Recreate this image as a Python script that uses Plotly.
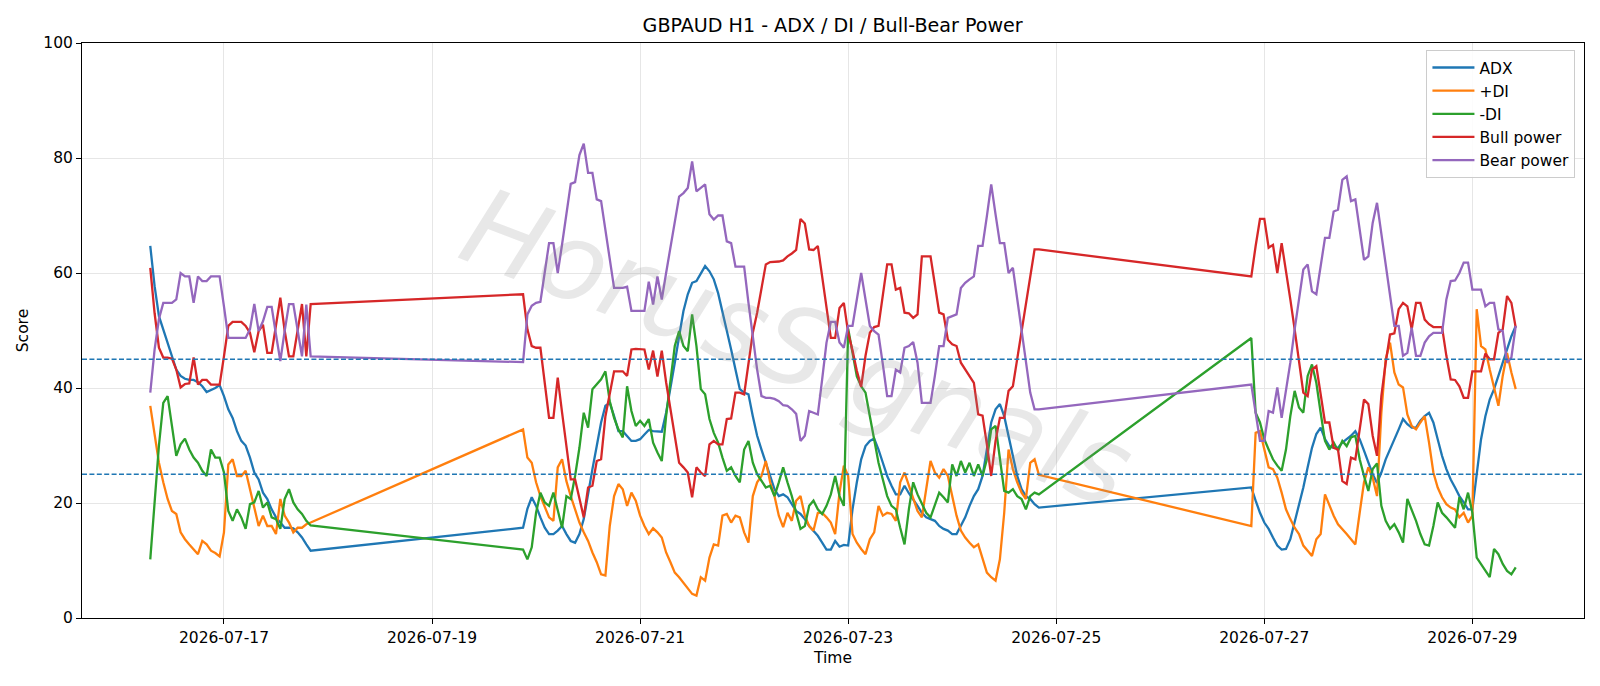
import pandas as pd
import plotly.graph_objects as go

# ---- time axis: three trading segments of hourly bars ----
seg_bounds = [("2026-07-16 07:00", "2026-07-17 20:00"),
              ("2026-07-19 21:00", "2026-07-24 20:00"),
              ("2026-07-26 21:00", "2026-07-29 10:00")]
times = []
for a, b in seg_bounds:
    times += list(pd.date_range(a, b, freq="h"))

# ---- series values ----
adx_s1 = [64.7, 57.7, 52.5, 50.2, 47.9, 45.8, 43.2, 42.1, 41.6, 41.4, 41.4, 41.0, 40.3, 39.3, 39.6, 40.0, 40.5, 38.6, 36.3, 34.8,
          32.5, 30.8, 30.0, 27.9, 25.3, 24.1, 21.8, 20.7, 18.9, 17.5, 16.6, 15.7, 15.7, 15.6, 14.9, 14.0, 12.8, 11.7]
adx_s2 = [15.7, 19.0, 21.0, 19.5, 17.5, 15.7, 14.6, 14.6, 15.2, 16.0,
          14.6, 13.4, 13.1, 14.6, 17.2, 21.8, 25.9, 29.9, 34.0, 36.9,
          37.4, 35.1, 32.5, 32.5, 31.7, 30.8, 30.8, 31.1, 31.9, 32.7,
          32.5, 32.5, 32.4, 35.7, 39.8, 44.4, 49.0, 53.4, 56.3, 58.3,
          58.6, 60.0, 61.2, 60.3, 58.9, 56.5, 53.4, 50.2, 46.7, 43.2,
          39.8, 39.2, 38.9, 35.1, 31.7, 29.3, 27.0, 24.4, 22.4, 21.2,
          21.5, 21.0, 19.8, 18.6, 18.1, 17.2, 16.0, 15.2, 14.3, 13.1,
          11.9, 11.9, 13.4, 12.4, 12.7, 12.6, 18.9, 23.6, 27.6, 29.9,
          30.8, 31.2, 29.3, 27.0, 24.7, 23.0, 21.5, 21.5, 23.0, 21.7,
          20.7, 19.5, 18.3, 17.5, 17.2, 16.9, 16.0, 15.5, 15.2, 14.6,
          14.6, 16.0, 17.5, 19.5, 21.2, 22.4, 24.7, 29.3, 34.0, 36.3,
          37.2, 35.1, 31.7, 28.5, 24.7, 22.4, 21.2, 20.7, 19.8, 19.2]
adx_s3 = [22.7, 20.4, 18.3, 16.6, 15.5, 14.0, 12.6, 11.9, 12.0, 13.7,
          16.6, 19.5, 22.7, 26.2, 29.6, 32.0, 33.1, 31.1, 29.9, 29.6,
          29.6, 30.5, 31.1, 31.7, 32.5, 31.1, 29.1, 27.0, 25.0, 23.5,
          25.3, 27.6, 29.3, 30.8, 32.8, 34.6, 33.7, 33.1, 33.1, 34.3,
          35.1, 35.7, 34.0, 31.1, 28.2, 25.9, 24.1, 22.7, 21.2, 20.1,
          18.9, 18.9, 24.7, 31.1, 35.1, 38.0, 39.8, 42.1, 44.4, 46.7,
          49.0, 50.8]

pdi_s1 = [36.9, 31.7, 27.0, 23.6, 20.7, 18.6, 18.1, 14.9, 13.7, 12.8, 12.0, 11.1, 13.4, 12.8, 11.7, 11.3, 10.7, 14.9, 26.7, 27.6,
          24.7, 24.7, 25.6, 22.4, 18.9, 16.0, 17.8, 16.0, 16.0, 14.6, 20.7, 17.8, 16.6, 14.9, 15.7, 15.7, 16.3, 16.6]
pdi_s2 = [32.8, 27.9, 27.0, 23.6, 21.2, 19.5, 17.5, 16.9, 26.2, 27.6,
          23.8, 21.2, 18.9, 16.6, 14.9, 13.4, 11.4, 9.7, 7.6, 7.4,
          16.0, 21.2, 23.3, 22.4, 19.5, 21.8, 20.4, 17.8, 16.0, 14.6,
          15.6, 14.9, 14.0, 11.4, 9.7, 7.9, 7.1, 6.2, 5.2, 4.2,
          3.9, 7.1, 6.5, 10.5, 12.8, 12.6, 17.8, 18.1, 16.6, 17.8,
          17.5, 14.9, 13.1, 21.2, 23.6, 24.7, 27.3, 23.6, 21.2, 17.8,
          15.8, 18.3, 16.9, 20.4, 21.2, 17.8, 16.0, 15.2, 18.3, 18.3,
          17.5, 16.6, 14.6, 21.8, 26.5, 24.7, 14.6, 13.1, 12.0, 11.1,
          13.7, 14.9, 19.5, 17.8, 18.3, 18.1, 16.9, 23.6, 25.3, 23.0,
          20.6, 18.6, 17.5, 22.7, 27.3, 25.3, 24.4, 25.9, 24.7, 21.2,
          17.8, 15.2, 14.0, 13.1, 12.3, 12.8, 10.2, 7.9, 7.1, 6.5,
          10.2, 18.3, 29.3, 25.9, 23.6, 21.8, 20.7, 27.0, 27.6, 24.9]
pdi_s3 = [16.0, 32.2, 32.5, 29.1, 26.2, 25.9, 24.4, 21.8, 18.9, 17.2,
          15.7, 14.6, 12.6, 11.7, 10.8, 13.7, 14.6, 21.5, 19.5, 17.8,
          16.3, 15.5, 14.6, 13.7, 12.8, 18.3, 23.6, 26.2, 24.4, 21.2,
          35.7, 45.0, 47.9, 42.7, 40.6, 40.1, 35.4, 33.4, 32.8, 34.0,
          35.1, 30.5, 25.3, 22.7, 21.0, 19.8, 19.2, 18.9, 17.5, 18.3,
          16.6, 17.8, 53.7, 47.3, 46.7, 43.2, 40.3, 36.9, 42.1, 46.1,
          42.7, 39.8]

mdi_s1 = [10.2, 20.0, 30.0, 37.4, 38.6, 33.4, 28.2, 30.2, 31.2, 29.3, 27.9, 27.0, 25.6, 24.7, 29.3, 27.9, 27.9, 25.3, 18.6, 16.9,
          18.9, 17.5, 15.5, 19.8, 20.1, 22.1, 19.2, 20.1, 17.5, 17.2, 15.5, 20.7, 22.4, 20.1, 18.9, 18.1, 16.9, 16.1]
mdi_s2 = [11.9, 10.2, 12.3, 18.3, 21.8, 20.1, 19.5, 21.8, 18.9, 15.7,
          21.2, 20.7, 24.7, 29.6, 35.7, 33.1, 39.8, 40.6, 41.5, 42.9,
          37.7, 34.8, 32.8, 31.4, 40.3, 36.0, 33.4, 34.3, 33.4, 34.6,
          30.5, 28.8, 27.3, 35.1, 41.5, 47.3, 49.9, 47.3, 46.4, 52.8,
          47.3, 39.8, 38.9, 34.6, 32.2, 30.5, 27.9, 25.6, 26.2, 24.7,
          23.6, 29.3, 30.8, 27.0, 25.0, 23.8, 22.7, 23.0, 21.2, 23.6,
          26.2, 23.6, 21.2, 18.3, 15.5, 16.0, 19.5, 20.4, 18.9, 18.1,
          19.5, 21.5, 24.7, 21.2, 19.5, 50.3, 46.0, 42.0, 40.3, 39.2,
          35.1, 31.1, 27.0, 24.1, 21.2, 19.5, 18.9, 15.7, 12.8, 18.9,
          23.6, 21.5, 19.8, 18.3, 17.5, 19.8, 21.8, 21.0, 20.1, 26.7,
          24.7, 27.3, 25.3, 27.0, 24.7, 26.7, 24.7, 27.6, 32.8, 33.4,
          27.6, 22.1, 21.8, 22.4, 21.2, 20.7, 18.9, 21.2, 21.8, 21.5]
mdi_s3 = [48.7, 35.7, 34.0, 31.1, 29.3, 27.6, 26.5, 25.6, 29.3, 35.1,
          39.5, 36.6, 35.7, 42.1, 44.1, 40.9, 35.7, 30.8, 29.3, 30.5,
          29.1, 30.8, 29.9, 31.4, 31.7, 27.6, 24.7, 22.1, 25.9, 26.9,
          19.5, 16.9, 15.5, 16.3, 14.9, 13.1, 20.7, 18.9, 16.9, 14.6,
          12.8, 12.6, 16.0, 20.1, 18.3, 17.5, 16.6, 15.7, 21.0, 18.9,
          21.8, 18.3, 10.5, 9.4, 8.2, 7.1, 12.0, 11.1, 9.4, 8.2,
          7.6, 8.8]

bull_s1 = [60.9, 53.0, 47.0, 45.3, 45.3, 45.1, 43.2, 40.1, 40.7, 40.8, 45.3, 40.6, 41.4, 41.4, 40.6, 40.6, 40.6, 45.5, 50.8, 51.5,
           51.5, 51.5, 50.8, 49.6, 46.2, 49.9, 51.0, 46.1, 46.1, 51.0, 55.7, 50.0, 45.5, 45.5, 50.0, 54.6, 45.5, 54.6]
bull_s2 = [56.3, 50.2, 47.3, 47.0, 47.0, 40.9, 34.8, 34.8, 41.8, 35.7,
           29.9, 24.1, 24.1, 20.7, 17.5, 22.7, 23.0, 27.3, 27.6, 35.1,
           39.2, 42.9, 42.9, 42.9, 42.1, 46.7, 46.8, 46.8, 46.7, 43.2,
           46.5, 42.0, 46.5, 41.0, 36.3, 31.1, 27.0, 26.2, 25.3, 21.0,
           26.2, 25.3, 24.7, 30.2, 30.8, 30.2, 30.2, 34.6, 34.7, 39.2,
           39.2, 38.9, 44.4, 49.6, 53.1, 57.1, 61.5, 61.9, 61.9, 62.0,
           62.2, 62.9, 63.4, 64.0, 69.4, 68.6, 64.1, 64.0, 64.7, 59.2,
           53.9, 48.7, 48.7, 53.9, 54.8, 49.6, 46.5, 43.0, 40.2, 45.6,
           49.6, 50.6, 50.8, 56.0, 61.5, 61.5, 57.1, 57.4, 53.1, 53.0,
           52.2, 52.8, 62.9, 62.9, 62.9, 58.0, 53.1, 52.8, 48.4, 47.6,
           47.3, 44.4, 43.2, 42.1, 40.9, 35.4, 35.2, 30.2, 24.7, 30.8,
           34.8, 34.8, 39.5, 40.3, 45.1, 49.8, 54.6, 59.3, 64.1, 64.1]
bull_s3 = [59.4, 64.7, 69.4, 69.4, 64.4, 64.9, 60.0, 65.2, 60.6, 55.4,
           50.2, 44.4, 39.2, 38.6, 43.2, 43.8, 39.2, 34.0, 34.0, 29.6,
           29.3, 23.8, 23.3, 27.9, 27.6, 32.8, 38.0, 37.2, 31.7, 28.2,
           38.6, 44.4, 49.3, 49.5, 53.7, 54.8, 54.2, 50.2, 54.8, 54.8,
           51.9, 51.1, 50.6, 50.6, 50.6, 45.6, 41.5, 41.4, 40.3, 38.3,
           38.3, 42.9, 42.9, 42.9, 46.0, 45.0, 45.0, 49.6, 50.2, 56.0,
           54.8, 50.5]

bear_s1 = [39.2, 46.7, 52.0, 54.8, 54.8, 54.8, 55.4, 60.0, 59.4, 59.4, 54.8, 59.4, 58.6, 58.6, 59.4, 59.4, 59.4, 54.2, 48.7, 48.7,
           48.7, 48.7, 48.7, 50.2, 54.6, 49.9, 51.6, 54.1, 54.1, 49.3, 44.7, 49.9, 54.6, 54.6, 49.9, 45.5, 54.5, 45.5]
bear_s2 = [44.5, 52.8, 54.3, 54.8, 55.0, 60.0, 65.2, 65.2, 60.0, 65.0,
           70.0, 75.5, 75.8, 80.5, 82.5, 77.4, 77.4, 72.8, 72.5, 67.5,
           62.0, 57.4, 57.4, 57.4, 57.6, 53.4, 53.4, 53.4, 53.4, 58.5,
           54.5, 59.4, 55.4, 60.0, 64.6, 69.1, 73.3, 73.9, 74.8, 79.4,
           74.2, 74.8, 75.4, 70.2, 69.3, 70.0, 70.0, 65.5, 65.2, 61.1,
           61.1, 61.1, 54.8, 49.0, 43.2, 38.6, 38.3, 38.3, 38.1, 37.7,
           37.0, 36.9, 36.3, 35.5, 30.8, 31.7, 36.0, 35.7, 35.4, 41.5,
           47.9, 51.5, 51.5, 47.9, 47.0, 50.8, 50.8, 55.4, 60.0, 55.4,
           50.8, 49.9, 49.3, 44.1, 38.6, 38.6, 43.2, 42.7, 47.0, 47.3,
           48.0, 44.4, 37.4, 37.4, 37.4, 42.1, 47.3, 47.3, 52.2, 52.5,
           52.8, 57.4, 58.3, 58.9, 59.4, 64.7, 64.7, 69.9, 75.4, 70.2,
           65.2, 65.2, 60.0, 60.9, 55.4, 50.2, 44.4, 39.2, 36.3, 36.3]
bear_s3 = [40.6, 35.4, 30.8, 30.8, 36.0, 35.7, 40.1, 34.8, 39.5, 44.4,
           50.2, 55.7, 60.6, 61.5, 56.8, 56.3, 61.2, 66.1, 66.1, 70.7,
           71.0, 76.2, 76.8, 72.5, 72.8, 67.5, 62.3, 62.9, 68.7, 72.2,
           67.0, 61.2, 56.0, 50.8, 50.8, 45.6, 46.1, 50.5, 45.6, 45.6,
           47.9, 49.0, 49.6, 49.6, 49.6, 55.4, 58.6, 58.7, 60.0, 61.8,
           61.8, 57.1, 57.1, 57.1, 54.2, 54.8, 54.8, 50.2, 49.9, 44.4,
           45.3, 50.8]

series = [
    ("ADX", adx_s1 + adx_s2 + adx_s3, "#1f77b4"),
    ("+DI", pdi_s1 + pdi_s2 + pdi_s3, "#ff7f0e"),
    ("-DI", mdi_s1 + mdi_s2 + mdi_s3, "#2ca02c"),
    ("Bull power", bull_s1 + bull_s2 + bull_s3, "#d62728"),
    ("Bear power", bear_s1 + bear_s2 + bear_s3, "#9467bd"),
]
threshold_levels = [45, 25]
tick_dates = ["2026-07-17", "2026-07-19", "2026-07-21", "2026-07-23", "2026-07-25", "2026-07-27", "2026-07-29"]

FONT = "DejaVu Sans"
fig = go.Figure()
for name, vals, col in series:
    fig.add_trace(go.Scatter(x=times, y=vals, mode="lines", name=name,
                             line=dict(color=col, width=2.3)))

for lv in threshold_levels:
    fig.add_shape(type="line", xref="paper", x0=0, x1=1, yref="y", y0=lv, y1=lv,
                  line=dict(color="#1f77b4", width=1.4, dash="5px,2.4px"), layer="above")

# watermark
fig.add_annotation(text="HorusSignals", xref="paper", yref="paper", x=0.476, y=0.47,
                   showarrow=False, textangle=21,
                   font=dict(family=FONT, size=108, color="rgba(140,140,140,0.2)", style="italic"))

fig.update_layout(
    width=1600, height=686,
    margin=dict(l=82, r=16, t=43, b=68),
    paper_bgcolor="white", plot_bgcolor="white",
    font=dict(family=FONT, size=15.5, color="black"),
    title=dict(text="GBPAUD H1 - ADX / DI / Bull-Bear Power", x=0.5204, xanchor="center",
               y=1 - 25.5 / 686, yref="container", yanchor="middle",
               font=dict(family=FONT, size=19.1, color="black")),
    showlegend=True,
    legend=dict(x=0.9943, xanchor="right", y=0.988, yanchor="top",
                bgcolor="rgba(255,255,255,0.85)", bordercolor="#cccccc", borderwidth=1,
                font=dict(family=FONT, size=15.5), itemwidth=42, tracegroupgap=0),
)
fig.update_xaxes(
    type="date", range=["2026-07-15 15:15", "2026-07-30 01:45"],
    tickvals=tick_dates, ticktext=tick_dates,
    showgrid=True, gridcolor="#e6e6e6", gridwidth=1,
    showline=True, linecolor="black", linewidth=1, mirror=True,
    ticks="outside", ticklen=5, tickcolor="black", tickwidth=1,
    tickfont=dict(family=FONT, size=15.5),
    title=dict(text="Time", font=dict(family=FONT, size=15.5), standoff=6),
    zeroline=False,
)
fig.update_yaxes(
    range=[0, 100], tickvals=[0, 20, 40, 60, 80, 100],
    showgrid=True, gridcolor="#e6e6e6", gridwidth=1,
    showline=True, linecolor="black", linewidth=1, mirror=True,
    ticks="outside", ticklen=5, tickcolor="black", tickwidth=1,
    tickfont=dict(family=FONT, size=15.5),
    title=dict(text="Score", font=dict(family=FONT, size=15.5), standoff=10),
    zeroline=False,
)

fig.write_html("out.html")
